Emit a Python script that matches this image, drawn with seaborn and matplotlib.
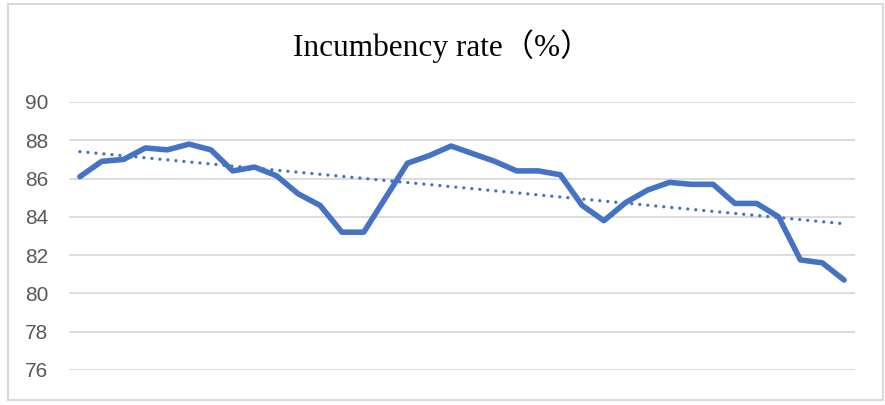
import numpy as np
import pandas as pd
import matplotlib
matplotlib.use('Agg')
import matplotlib.pyplot as plt
import seaborn as sns

# Daten
periods = list(range(36))
rate = [86.1, 86.9, 87.0, 87.6, 87.5, 87.8, 87.5, 86.4, 86.6, 86.15,
        85.2, 84.6, 83.2, 83.2, 85.0, 86.8, 87.2, 87.7, 87.3, 86.9,
        86.4, 86.4, 86.2, 84.6, 83.8, 84.75, 85.4, 85.8, 85.7, 85.7,
        84.7, 84.7, 84.0, 81.75, 81.6, 80.7]
yticks = [76, 78, 80, 82, 84, 86, 88, 90]
title = 'Incumbency rate（%）'

df = pd.DataFrame({'period': periods, 'rate': rate})

sns.set_style('white')
plt.rcParams['font.family'] = ['Liberation Sans', 'DejaVu Sans']

BLUE = '#4472C4'
GRID = '#d9d9d9'

fig = plt.figure(figsize=(8.85, 4.05), dpi=100)
ax = fig.add_axes([69 / 885, 35 / 405, 786 / 885, 268 / 405])

sns.lineplot(data=df, x='period', y='rate', ax=ax, color=BLUE, linewidth=4.0,
             solid_joinstyle='round', solid_capstyle='round', zorder=3)
sns.regplot(data=df, x='period', y='rate', ax=ax, scatter=False, ci=None,
            line_kws=dict(color=BLUE, linewidth=2.4, linestyle=(0, (0.01, 2.4)),
                          dash_capstyle='round', zorder=2))

ax.set_xlim(-0.5, 35.5)
ax.set_ylim(76, 90)
ax.set_yticks(yticks)
ax.set_xticks([])
ax.set_xlabel('')
ax.set_ylabel('')
ax.yaxis.grid(True, color=GRID, linewidth=1.3)
ax.set_axisbelow(True)
for s in ax.spines.values():
    s.set_visible(False)
ax.tick_params(axis='y', length=0, pad=15, labelsize=15, labelcolor='#595959')

fig.text(0.5, 0.885, title, ha='center', va='center', fontsize=22.5,
         family=['Liberation Serif', 'Noto Sans CJK SC'], color='black')

# Rahmen
fig.add_artist(plt.Rectangle((8 / 885, 5 / 405), 875 / 885, 396 / 405,
                             transform=fig.transFigure, fill=False,
                             edgecolor=GRID, linewidth=1.5))

fig.savefig('out.png', dpi=100)
